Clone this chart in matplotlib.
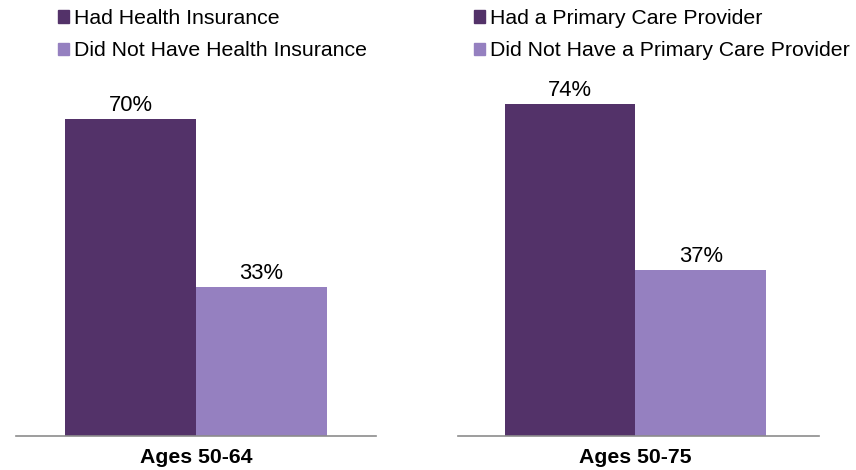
import matplotlib
matplotlib.use("Agg")
import matplotlib.pyplot as plt
from matplotlib.patches import Patch

plt.rcParams['font.family'] = ['Liberation Sans', 'DejaVu Sans']

# datos
grupos = ["Ages 50-64", "Ages 50-75"]
leyendas = [
    ["Had Health Insurance", "Did Not Have Health Insurance"],
    ["Had a Primary Care Provider", "Did Not Have a Primary Care Provider"],
]
con = [70, 74]
sin = [33, 37]

oscuro = "#533269"
claro = "#9580c0"

fig = plt.figure(figsize=(8.56, 4.70), dpi=100)
W, H = 856, 470

# (izq, der, xlim izq, xlim der, px por %, x leyenda)
paneles = [(16, 376, -1.377, 1.377, 4.53, 58),
           (458, 819, -1.36, 1.406, 4.49, 474)]
for i, (x0, x1, xl, xr, esc, lx) in enumerate(paneles):
    ax = fig.add_axes([x0 / W, 34 / H, (x1 - x0) / W, 356 / H])
    ax.bar([-0.5, 0.5], [con[i], sin[i]], width=1.0, color=[oscuro, claro])
    ax.set_xlim(xl, xr)
    ax.set_ylim(0, 356 / esc)
    for xi, v in zip([-0.5, 0.5], [con[i], sin[i]]):
        ax.annotate(f"{v}%", (xi, v), xytext=(0, 2), textcoords="offset points",
                    ha="center", va="bottom", fontsize=15.8)
    for s in ["top", "right", "left"]:
        ax.spines[s].set_visible(False)
    ax.spines["bottom"].set_color("#8c8c8c")
    ax.spines["bottom"].set_linewidth(1.2)
    ax.set_yticks([])
    ax.set_xticks([0])
    ax.set_xticklabels([grupos[i]], fontsize=15.3, fontweight="bold")
    ax.tick_params(axis="x", length=0, pad=8.5)

    handles = [Patch(color=oscuro), Patch(color=claro)]
    fig.legend(handles, leyendas[i], loc="upper left",
               bbox_to_anchor=(lx / W, 1 - 9 / H), frameon=False,
               fontsize=15.3, handlelength=0.5, handleheight=0.5,
               handletextpad=0.25, labelspacing=0.63, borderaxespad=0,
               borderpad=0)

fig.savefig("out.png", dpi=100)
